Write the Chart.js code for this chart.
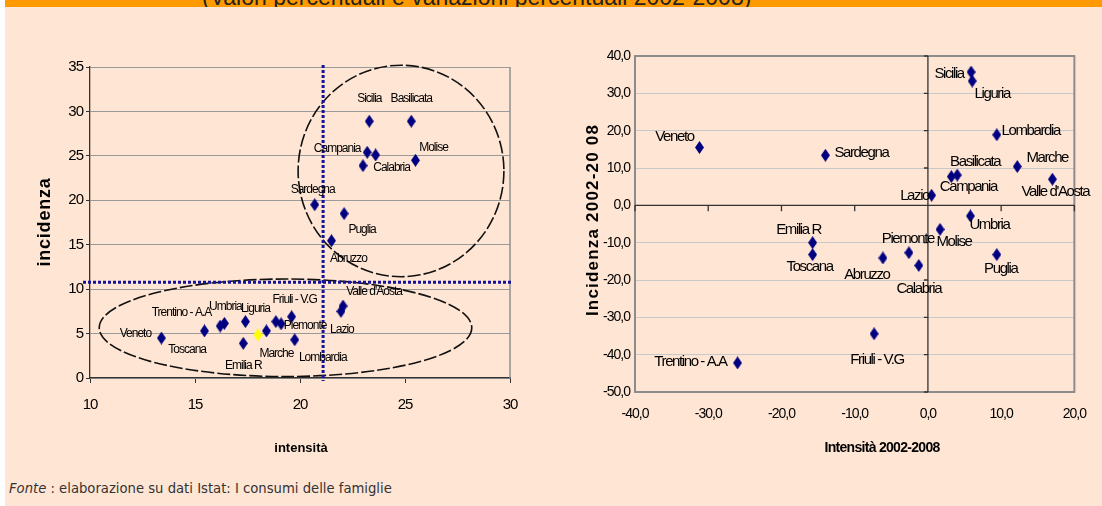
<!DOCTYPE html>
<html lang="it">
<head>
<meta charset="utf-8">
<title>Povertà relativa per regione: intensità e incidenza</title>
<script src="https://cdn.jsdelivr.net/npm/chart.js@4.4.1/dist/chart.umd.min.js"></script>
<style>
  html { background: #ffe5d3; overflow: hidden; }
  html, body { margin: 0; padding: 0; }
  body {
    width: 1102px; height: 506px; position: relative; overflow: hidden;
    background: #ffe5d3; font-family: "Liberation Sans", Arial, sans-serif;
  }
  .fondo { position: absolute; left: 0; top: 0; width: 1120px; height: 520px; background: #ffe5d3; }
  .margine { position: absolute; left: 0; top: 0; width: 5px; height: 506px; background: #fff; }
  .testata { position: absolute; left: 5px; top: 0; width: 1110px; height: 7px; background: #ff9900; overflow: hidden; }
  .testata span {
    position: absolute; left: 197px; top: -14px; white-space: nowrap;
    font-size: 23px; line-height: 23px; color: #222;
  }
  canvas { position: absolute; top: 30px; }
  #graficoLivelli { left: 0; }
  #graficoVariazioni { left: 550px; }
  .fonte {
    position: absolute; left: 9px; top: 481px;
    font-family: "DejaVu Sans", sans-serif; font-size: 13.2px; color: #333;
  }
</style>
</head>
<body>
<div class="fondo"></div>
<div class="margine"></div>
<div class="testata"><span>(Valori percentuali e variazioni percentuali 2002-2008)</span></div>
<canvas id="graficoLivelli" width="550" height="440"></canvas>
<canvas id="graficoVariazioni" width="552" height="440"></canvas>
<div class="fonte"><i>Fonte</i> : elaborazione su dati Istat: I consumi delle famiglie</div>

<script>
// --- livelli 2008 (grafico di sinistra) ---
const regioni = ['Sicilia', 'Basilicata', 'Campania', 'Calabria', '', 'Molise', 'Sardegna', 'Puglia', 'Abruzzo',
  'Veneto', 'Trentino - A.A', 'Toscana', 'Umbria', 'Liguria', 'Emilia R', 'Marche', '', 'Piemonte',
  'Friuli - V.G', 'Lombardia', 'Lazio', "Valle d'Aosta"];
const intensita = [23.3, 25.3, 23.2, 23.6, 23.0, 25.5, 20.7, 22.1, 21.5,
  13.4, 15.45, 16.2, 16.4, 17.4, 17.3, 18.4, 18.85, 19.1, 19.6, 19.75, 21.95, 22.05];
const incidenza = [28.9, 28.9, 25.4, 25.1, 23.9, 24.5, 19.5, 18.5, 15.45,
  4.5, 5.3, 5.85, 6.15, 6.35, 3.9, 5.3, 6.35, 6.1, 6.9, 4.3, 7.5, 8.1];
// punto evidenziato in giallo
const evidenziatoX = [18.0];
const evidenziatoY = [4.85];
// soglie delle linee tratteggiate
const sogliaIntensita = 21.1;
const sogliaIncidenza = 10.77;

// --- variazioni 2002-2008 (grafico di destra) ---
const regioniVar = ['Sicilia', 'Liguria', 'Lombardia', 'Veneto', 'Sardegna', 'Basilicata', 'Marche', 'Campania',
  'Lazio', "Valle d'Aosta", 'Umbria', 'Molise', 'Piemonte', 'Emilia R', 'Toscana', 'Abruzzo', 'Calabria',
  'Puglia', 'Friuli - V.G', 'Trentino - A.A'];
const varIntensita = [5.9, 6.05, 9.4, -31.2, -14.0, 4.0, 12.2, 3.2, 0.5, 17.0, 5.8, 1.65, -2.6, -15.75,
  -15.75, -6.15, -1.25, 9.4, -7.35, -26.0];
const varIncidenza = [35.7, 33.3, 18.9, 15.5, 13.4, 8.1, 10.4, 7.7, 2.7, 7.0, -2.85, -6.45, -12.7, -10.0,
  -13.2, -14.1, -16.1, -13.2, -34.4, -42.2];

const FONT = '"Liberation Sans", Arial, sans-serif';
Chart.defaults.font.family = FONT;
Chart.defaults.color = '#000';

// rombo più alto che largo, come i marcatori di Excel
function rombo(colore) {
  const c = document.createElement('canvas');
  c.width = 9; c.height = 13;
  const g = c.getContext('2d');
  g.fillStyle = colore;
  g.beginPath();
  g.moveTo(4.5, 0); g.lineTo(9, 6.5); g.lineTo(4.5, 13); g.lineTo(0, 6.5);
  g.closePath();
  g.fill();
  return c;
}

// spaziatura stretta per le etichette degli assi
const spaziatura = {
  id: 'spaziatura',
  beforeDraw(chart, args, opts) { chart.ctx.letterSpacing = opts.valore || '0px'; }
};

// nomi delle regioni accanto ai punti
const etichette = {
  id: 'etichette',
  afterDatasetsDraw(chart, args, opts) {
    const ctx = chart.ctx;
    ctx.save();
    ctx.font = opts.font;
    ctx.letterSpacing = opts.spaziatura;
    ctx.fillStyle = '#000';
    ctx.textAlign = 'center';
    ctx.textBaseline = 'middle';
    chart.data.datasets.forEach((ds, i) => {
      if (!ds.nomi) return;
      chart.getDatasetMeta(i).data.forEach((pt, j) => {
        const nome = ds.nomi[j];
        if (!nome) return;
        const off = opts.spostamenti[nome] || [0, 0];
        ctx.fillText(nome, pt.x + off[0], pt.y + off[1]);
      });
    });
    ctx.restore();
  }
};

// titoli degli assi
const titoli = {
  id: 'titoli',
  afterDraw(chart, args, opts) {
    const ctx = chart.ctx;
    opts.voci.forEach(v => {
      ctx.save();
      ctx.font = v.font;
      ctx.letterSpacing = v.spaziatura || '0px';
      ctx.fillStyle = '#000';
      ctx.textAlign = 'center';
      ctx.textBaseline = 'middle';
      ctx.translate(v.x, v.y);
      if (v.ruota) ctx.rotate(-Math.PI / 2);
      ctx.fillText(v.testo, 0, 0);
      ctx.restore();
    });
  }
};

// ellissi e linee di soglia del grafico di sinistra
const guide = {
  id: 'guide',
  beforeDatasetsDraw(chart) {
    const ctx = chart.ctx, a = chart.chartArea;
    ctx.save();
    ctx.strokeStyle = '#8f8f8f';
    ctx.lineWidth = 1.5;
    ctx.beginPath();
    ctx.moveTo(a.right, a.top); ctx.lineTo(a.right, a.bottom);
    ctx.stroke();
    ctx.restore();
  },
  afterDatasetsDraw(chart, args, opts) {
    const ctx = chart.ctx, a = chart.chartArea;
    const sx = chart.scales.x, sy = chart.scales.y;
    ctx.save();
    ctx.strokeStyle = '#111';
    ctx.lineWidth = 1.6;
    ctx.setLineDash([13, 3]);
    opts.ellissi.forEach(e => {
      const cx = sx.getPixelForValue(e.cx), cy = sy.getPixelForValue(e.cy);
      const rx = Math.abs(sx.getPixelForValue(e.cx + e.rx) - cx);
      const ry = Math.abs(sy.getPixelForValue(e.cy + e.ry) - cy);
      ctx.beginPath();
      ctx.ellipse(cx, cy, rx, ry, 0, 0, Math.PI * 2);
      ctx.stroke();
    });
    ctx.strokeStyle = '#12129a';
    ctx.lineWidth = 3;
    ctx.setLineDash([3, 2]);
    const xv = sx.getPixelForValue(sogliaIntensita);
    const yv = sy.getPixelForValue(sogliaIncidenza);
    ctx.beginPath();
    ctx.moveTo(xv, a.top - 2); ctx.lineTo(xv, a.bottom + 3);
    ctx.moveTo(a.left - 7, yv); ctx.lineTo(a.right + 3, yv);
    ctx.stroke();
    ctx.restore();
  }
};

// cornice e assi che si incrociano nello zero (grafico di destra)
const assiZero = {
  id: 'assiZero',
  beforeDatasetsDraw(chart) {
    const ctx = chart.ctx, a = chart.chartArea;
    const sx = chart.scales.x, sy = chart.scales.y;
    const x0 = sx.getPixelForValue(0), y0 = sy.getPixelForValue(0);
    ctx.save();
    ctx.strokeStyle = '#8c8c8c';
    ctx.lineWidth = 2;
    ctx.strokeRect(a.left, a.top, a.right - a.left, a.bottom - a.top);
    ctx.strokeStyle = '#333';
    ctx.lineWidth = 1.3;
    ctx.beginPath();
    ctx.moveTo(x0, a.top); ctx.lineTo(x0, a.bottom);
    ctx.moveTo(a.left, y0); ctx.lineTo(a.right, y0);
    sy.ticks.forEach(t => {
      const p = sy.getPixelForValue(t.value);
      ctx.moveTo(x0 - 4, p); ctx.lineTo(x0, p);
    });
    sx.ticks.forEach(t => {
      const p = sx.getPixelForValue(t.value);
      ctx.moveTo(p, y0); ctx.lineTo(p, y0 + 6);
    });
    ctx.stroke();
    ctx.restore();
  }
};

new Chart(document.getElementById('graficoLivelli'), {
  type: 'scatter',
  data: {
    datasets: [
      {
        label: 'Regioni',
        data: intensita.map((x, i) => ({ x: x, y: incidenza[i] })),
        nomi: regioni,
        pointStyle: rombo('#000080'),
      },
      {
        label: 'Evidenziato',
        data: evidenziatoX.map((x, i) => ({ x: x, y: evidenziatoY[i] })),
        pointStyle: rombo('#ffff00'),
      },
    ],
  },
  options: {
    responsive: false,
    animation: false,
    events: [],
    layout: { padding: { top: 37, right: 40, left: 0, bottom: 0 } },
    scales: {
      x: {
        type: 'linear', min: 10, max: 30,
        ticks: { stepSize: 5, font: { size: 15 }, padding: 13 },
        grid: { drawOnChartArea: false, tickLength: 5, tickColor: '#333' },
        border: { color: '#333', width: 1.3 },
        afterFit(s) { s.height = 92; },
      },
      y: {
        min: 0, max: 35,
        ticks: { stepSize: 5, font: { size: 15 }, padding: 3 },
        grid: { color: '#9a9a9a', tickLength: 4, tickColor: '#333' },
        border: { color: '#333', width: 1.3 },
        afterFit(s) { s.width = 90; },
      },
    },
    plugins: {
      legend: { display: false },
      tooltip: { enabled: false },
      spaziatura: { valore: '-1px' },
      etichette: {
        font: '12px ' + FONT,
        spaziatura: '-1px',
        spostamenti: {
          'Sicilia': [0, -23], 'Basilicata': [0, -23], 'Campania': [-30, -4], 'Calabria': [16, 13],
          'Molise': [18, -13], 'Sardegna': [-2, -15], 'Puglia': [18, 16], 'Abruzzo': [17, 18],
          'Veneto': [-26, -4], 'Trentino - A.A': [-23, -18], 'Toscana': [-33, 24], 'Umbria': [1, -17],
          'Liguria': [10, -13], 'Emilia R': [0, 22], 'Marche': [10, 23], 'Piemonte': [24, 2],
          'Friuli - V.G': [3, -17], 'Lombardia': [28, 18], 'Lazio': [1, 18], "Valle d'Aosta": [31, -14],
        },
      },
      guide: {
        ellissi: [
          { cx: 24.81, cy: 23.3, rx: 4.9, ry: 11.9 },
          { cx: 19.31, cy: 5.65, rx: 8.87, ry: 5.49 },
        ],
      },
      titoli: {
        voci: [
          { testo: 'incidenza', x: 45, y: 192, ruota: true, font: 'bold 18px ' + FONT, spaziatura: '0.8px' },
          { testo: 'intensità', x: 301, y: 418, font: 'bold 13px ' + FONT },
        ],
      },
    },
  },
  plugins: [spaziatura, guide, etichette, titoli],
});

new Chart(document.getElementById('graficoVariazioni'), {
  type: 'scatter',
  data: {
    datasets: [{
      label: 'Variazioni 2002-2008',
      data: varIntensita.map((x, i) => ({ x: x, y: varIncidenza[i] })),
      nomi: regioniVar,
      pointStyle: rombo('#000080'),
    }],
  },
  options: {
    responsive: false,
    animation: false,
    events: [],
    layout: { padding: { top: 26, right: 20, left: 0, bottom: 0 } },
    scales: {
      x: {
        type: 'linear', min: -40, max: 20,
        ticks: {
          stepSize: 10, font: { size: 14 }, padding: 14,
          callback: v => v.toFixed(1).replace('.', ','),
        },
        grid: { display: false, drawTicks: false },
        border: { display: false },
        afterFit(s) { s.height = 78; },
      },
      y: {
        min: -50, max: 40,
        ticks: {
          stepSize: 10, font: { size: 14 }, padding: 5,
          callback: v => v.toFixed(1).replace('.', ','),
        },
        grid: { color: '#c8c8c8', drawTicks: false },
        border: { display: false },
        afterFit(s) { s.width = 85; },
      },
    },
    plugins: {
      legend: { display: false },
      tooltip: { enabled: false },
      spaziatura: { valore: '-1px' },
      etichette: {
        font: '15px ' + FONT,
        spaziatura: '-1.4px',
        spostamenti: {
          'Sicilia': [-22, 2], 'Liguria': [20, 13], 'Lombardia': [34, -4], 'Veneto': [-25, -11],
          'Sardegna': [36, -2], 'Basilicata': [18, -13], 'Marche': [30, -9], 'Campania': [17, 10],
          'Lazio': [-17, 1], "Valle d'Aosta": [3, 13], 'Umbria': [19, 9], 'Molise': [14, 12],
          'Piemonte': [-1, -14], 'Emilia R': [-14, -13], 'Toscana': [-3, 12], 'Abruzzo': [-16, 17],
          'Calabria': [0, 23], 'Puglia': [4, 14], 'Friuli - V.G': [3, 26], 'Trentino - A.A': [-47, -1],
        },
      },
      titoli: {
        voci: [
          { testo: 'Incidenza 2002-20 08', x: 43, y: 190, ruota: true, font: 'bold 17px ' + FONT, spaziatura: '1.2px' },
          { testo: 'Intensità 2002-2008', x: 332, y: 418, font: 'bold 14px ' + FONT, spaziatura: '-0.7px' },
        ],
      },
    },
  },
  plugins: [spaziatura, assiZero, etichette, titoli],
});
</script>
</body>
</html>
